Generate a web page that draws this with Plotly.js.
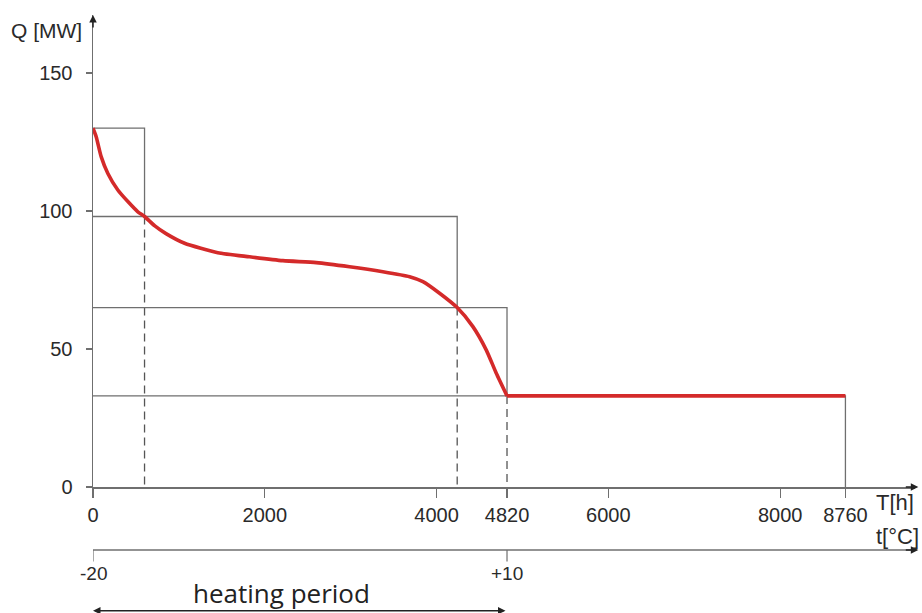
<!DOCTYPE html>
<html>
<head>
<meta charset="utf-8">
<script src="https://cdn.plot.ly/plotly-3.0.1.min.js"></script>
<style>html,body{margin:0;padding:0;background:#fff;}#chart{width:922px;height:613px;}</style>
</head>
<body>
<div id="chart"></div>
<script>
// Load-duration curve (hours vs heat load)
const hours = [0, 37, 95, 173, 289, 406, 522, 600, 720, 850, 1066, 1453, 1823, 2211, 2599, 2987, 3375, 3686, 3841, 4035, 4240, 4423, 4579, 4695, 4820, 8760];
const loadQ = [130, 126.9, 119.7, 113.6, 107.6, 103.4, 99.7, 98, 94.6, 91.8, 88.3, 84.9, 83.4, 82.0, 81.3, 79.8, 78.0, 76.2, 74.4, 70.2, 65, 58.1, 49.6, 41.2, 33, 33];
// Step approximation (levels and their durations)
const stepLevels = [130, 98, 65, 33];
const stepHours = [600, 4240, 4820, 8760];
// Axis ticks
const hourTicks = [0, 2000, 4000, 4820, 6000, 8000, 8760];
const hourTickText = ['0', '2000', '4000', '4820', '6000', '8000', '8760'];
const qTicks = [0, 50, 100, 150];
// Outdoor temperature scale
const tempHours = [0, 4820];
const tempLabels = ['-20', '+10'];
const heatingEnd = 4820;

const gray = '#6f6f6f';
const txt = '#2a2a2a';
const traces = [];
// step rectangles
for (let i = 0; i < stepLevels.length; i++) {
  const lvl = stepLevels[i];
  const nxt = i + 1 < stepLevels.length ? stepLevels[i + 1] : 0;
  traces.push({x: [0, stepHours[i], stepHours[i]], y: [lvl, lvl, nxt], mode: 'lines',
    line: {color: gray, width: 1.3}, hoverinfo: 'skip', showlegend: false});
  if (nxt > 0) {
    traces.push({x: [stepHours[i], stepHours[i]], y: [nxt, 0], mode: 'lines',
      line: {color: '#555', width: 1.3, dash: '8px,5px'}, hoverinfo: 'skip', showlegend: false});
  }
}
// red curve (heating season, smooth) and flat summer part
const split = hours.indexOf(heatingEnd);
traces.push({x: hours.slice(0, split + 1), y: loadQ.slice(0, split + 1), mode: 'lines',
  line: {color: '#d42a2a', width: 3.6, shape: 'spline', smoothing: 0.6}, showlegend: false});
traces.push({x: hours.slice(split), y: loadQ.slice(split), mode: 'lines',
  line: {color: '#d42a2a', width: 3.6}, showlegend: false});

const fontMain = 'Liberation Sans, Arial, sans-serif';
const annotations = [
  // axis arrows
  {xref: 'paper', yref: 'paper', x: 0, y: 1, ax: 0, ay: 14, axref: 'pixel', ayref: 'pixel', text: '', showarrow: true, arrowhead: 2, arrowsize: 1, arrowwidth: 1.5, arrowcolor: '#222'},
  {xref: 'paper', yref: 'paper', x: 1.004, y: 0, ax: -14, ay: 0, text: '', showarrow: true, arrowhead: 2, arrowsize: 1, arrowwidth: 1.5, arrowcolor: '#222'},
  {xref: 'paper', yref: 'paper', x: 1.004, y: -0.1335, ax: -14, ay: 0, text: '', showarrow: true, arrowhead: 2, arrowsize: 1, arrowwidth: 1.5, arrowcolor: '#222'},
  // axis titles
  {xref: 'paper', yref: 'paper', x: 0, xanchor: 'right', xshift: -9, y: 0.968, yanchor: 'middle', text: 'Q [MW]', showarrow: false, font: {family: fontMain, size: 21, color: txt}},
  {xref: 'paper', yref: 'paper', x: 0.976, xanchor: 'center', y: -0.032, yanchor: 'middle', text: 'T[h]', showarrow: false, font: {family: 'Liberation Sans Narrow, ' + fontMain, size: 22, color: txt}},
  {xref: 'paper', yref: 'paper', x: 0.979, xanchor: 'center', y: -0.104, yanchor: 'middle', text: 't[°C]', showarrow: false, font: {family: 'Liberation Sans Narrow, ' + fontMain, size: 22, color: txt}},
  // heating period
  {xref: 'paper', yref: 'paper', x: 0.229, xanchor: 'center', y: -0.224, yanchor: 'middle', text: 'heating period', showarrow: false, font: {family: 'Open Sans, sans-serif', size: 26, color: '#222'}},
  {xref: 'x', yref: 'paper', x: 0, y: -0.262, ax: heatingEnd, axref: 'x', ay: 0, ayref: 'pixel', text: '', showarrow: true, arrowside: 'end+start', arrowhead: 2, arrowsize: 1, arrowwidth: 1.5, arrowcolor: '#222'}
];
for (let i = 0; i < tempHours.length; i++) {
  annotations.push({xref: 'x', yref: 'paper', x: tempHours[i], xanchor: 'center', y: -0.184, yanchor: 'middle', text: tempLabels[i], showarrow: false, font: {family: fontMain, size: 19, color: txt}});
}
const shapes = [
  {type: 'line', xref: 'paper', yref: 'paper', x0: 0, x1: 1, y0: -0.1335, y1: -0.1335, line: {color: gray, width: 1.5}}
];
for (let i = 0; i < tempHours.length; i++) {
  shapes.push({type: 'line', xref: 'x', yref: 'paper', x0: tempHours[i], x1: tempHours[i], y0: -0.1335, y1: -0.158, line: {color: gray, width: 1.2}});
}

const layout = {
  width: 922, height: 613,
  margin: {l: 93, r: 7, t: 15, b: 126},
  paper_bgcolor: '#fff', plot_bgcolor: '#fff',
  showlegend: false,
  xaxis: {range: [0, 9570], showgrid: false, zeroline: false, showline: true, linecolor: gray, linewidth: 1.5,
    ticks: 'outside', ticklen: 9, tickcolor: gray, tickwidth: 1.2, tickvals: hourTicks, ticktext: hourTickText,
    ticklabelstandoff: 0, tickfont: {family: fontMain, size: 20, color: txt}, fixedrange: true},
  yaxis: {range: [0, 171], showgrid: false, zeroline: false, showline: true, linecolor: gray, linewidth: 1.5,
    ticks: 'outside', ticklen: 6, tickcolor: gray, tickwidth: 1.2, tickvals: qTicks,
    ticklabelstandoff: 9, tickfont: {family: fontMain, size: 20, color: txt}, fixedrange: true},
  annotations: annotations,
  shapes: shapes
};
Plotly.newPlot('chart', traces, layout, {displayModeBar: false, staticPlot: true});
</script>
</body>
</html>
